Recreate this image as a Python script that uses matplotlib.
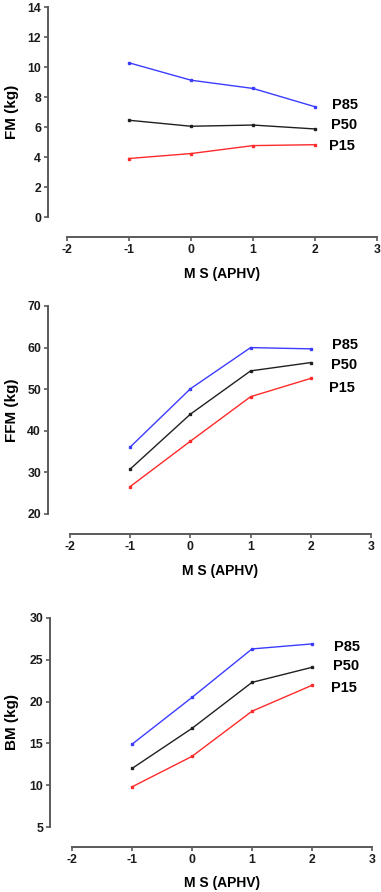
import matplotlib
matplotlib.use("Agg")
import matplotlib.pyplot as plt

plt.rcParams['font.family'] = ['Liberation Sans', 'DejaVu Sans']
plt.rcParams['axes.unicode_minus'] = False

ms = [-1, 0, 1, 2]
series_names = ["P85", "P50", "P15"]

fm_p85 = [10.28, 9.12, 8.57, 7.35]
fm_p50 = [6.45, 6.05, 6.13, 5.87]
fm_p15 = [3.90, 4.23, 4.76, 4.82]

ffm_p85 = [36.1, 50.1, 60.0, 59.7]
ffm_p50 = [30.8, 44.0, 54.4, 56.4]
ffm_p15 = [26.6, 37.5, 48.2, 52.6]

bm_p85 = [14.9, 20.5, 26.3, 26.9]
bm_p50 = [12.0, 16.8, 22.3, 24.1]
bm_p15 = [9.8, 13.45, 18.85, 21.95]

panels = [
    ("FM (kg)", [fm_p85, fm_p50, fm_p15], (0, 14), [0, 2, 4, 6, 8, 10, 12, 14]),
    ("FFM (kg)", [ffm_p85, ffm_p50, ffm_p15], (20, 70), [20, 30, 40, 50, 60, 70]),
    ("BM (kg)", [bm_p85, bm_p50, bm_p15], (5, 30), [5, 10, 15, 20, 25, 30]),
]
xticks = [-2, -1, 0, 1, 2, 3]

colors = ["#3c3cff", "#202020", "#ff2a2a"]

W, H = 381, 892
fig = plt.figure(figsize=(W / 100, H / 100), dpi=100)

# pixel boxes: left, right, top, bottom, left-spine outward px, bottom-spine outward px, xlabel y px
boxes = [
    (67, 377, 7, 217, 19, 20, 274),
    (70, 371, 306, 514, 22, 20, 571),
    (72, 372, 618, 827, 22, 20, 883),
]
label_offsets = [
    [(12, 1.5), (11.5, 2.5), (10, -1)],
    [(15, 3), (14.5, -1.5), (13, -7)],
    [(16, -2), (15, 1), (14, -2)],
]

spine_col = "#5a5a5a"
for (ylabel, series, ylim, yticks), (l, r, t, b, lo, bo, xly), offs in zip(panels, boxes, label_offsets):
    ax = fig.add_axes([l / W, 1 - b / H, (r - l) / W, (b - t) / H])
    ax.set_xlim(-2, 3)
    ax.set_ylim(*ylim)
    for s, c, name, off in zip(series, colors, series_names, offs):
        ax.plot(ms, s, color=c, lw=1.0, marker='s', ms=1.6, mec=c, mfc=c, clip_on=False)
        ax.annotate(name, (ms[-1], s[-1]), xytext=off, textcoords='offset points',
                    ha='left', va='center', fontsize=10.5, fontweight='bold', color='black')
    for side in ['top', 'right']:
        ax.spines[side].set_visible(False)
    ax.spines['left'].set_position(('outward', lo * 0.72))
    ax.spines['bottom'].set_position(('outward', bo * 0.72))
    ax.spines['left'].set_bounds(*ylim)
    ax.spines['bottom'].set_bounds(-2, 3)
    for side in ['left', 'bottom']:
        ax.spines[side].set_color(spine_col)
        ax.spines[side].set_linewidth(1.4)
    ax.set_xticks(xticks)
    ax.set_yticks(yticks)
    ax.tick_params(direction='out', length=3, width=1.2, color=spine_col,
                   labelsize=8.8, labelcolor='#1a1a1a', pad=2)
    for lab in ax.get_xticklabels() + ax.get_yticklabels():
        lab.set_fontweight('bold')
    ax.set_ylabel(ylabel, fontsize=11, fontweight='bold')
    ax.yaxis.set_label_coords(-(l - 12) / (r - l), 0.5)
    ax.yaxis.label.set_va('center')
    fig.text(((l + r) / 2) / W, 1 - xly / H, "M S (APHV)", ha='center', va='center',
             fontsize=10, fontweight='bold')
    ax.patch.set_visible(False)

fig.savefig("out.png", dpi=100)
